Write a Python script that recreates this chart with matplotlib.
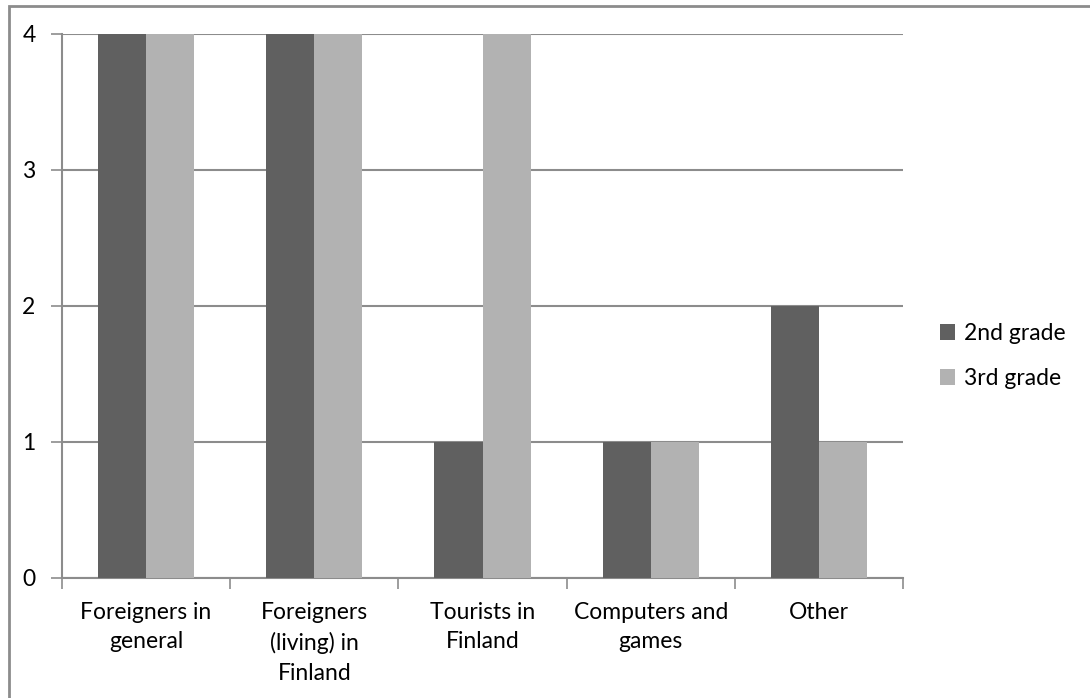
import matplotlib
matplotlib.use("Agg")
from matplotlib import pyplot as plt
from matplotlib.patches import Rectangle
import numpy as np

categories = ["Foreigners in\ngeneral", "Foreigners\n(living) in\nFinland",
              "Tourists in\nFinland", "Computers and\ngames", "Other"]
grade2 = [4, 4, 1, 1, 2]
grade3 = [4, 4, 4, 1, 1]
series_names = ["2nd grade", "3rd grade"]
yticks = [0, 1, 2, 3, 4]

plt.rcParams['font.family'] = ['Lato', 'DejaVu Sans']
fs = 16.5

fig = plt.figure(figsize=(10.9, 6.98), dpi=100)
W, H = 1090, 698

# outer chart frame (right/bottom run off the picture)
fig.patches.append(Rectangle((8.5 / W, -0.1), 1.2, 1 - 6.5 / H + 0.1,
                             transform=fig.transFigure, fill=False,
                             edgecolor='#8c8c8c', linewidth=2))

left, right, top, bottom = 62, 903, 34, 578
ax = fig.add_axes([left / W, 1 - bottom / H, (right - left) / W, (bottom - top) / H])

x = np.arange(len(categories))
w = 1 / 3.5
ax.bar(x - w / 2, grade2, w, color='#606060', label=series_names[0], zorder=3)
ax.bar(x + w / 2, grade3, w, color='#b2b2b2', label=series_names[1], zorder=3)

ax.set_xlim(-0.5, len(categories) - 0.5)
ax.set_ylim(0, 4)
ax.set_yticks(yticks)
ax.set_yticklabels([str(t) for t in yticks], fontsize=fs)
ax.yaxis.grid(True, color='#8c8c8c', linewidth=1.5, zorder=0)

ax.set_xticks(np.arange(-0.5, len(categories), 1))
ax.set_xticklabels([])
ax.set_xticks(x, minor=True)
ax.set_xticklabels(categories, minor=True, fontsize=fs, linespacing=1.52, va='top')
ax.tick_params(axis='x', which='minor', length=0, pad=17)
ax.tick_params(axis='x', which='major', length=8, color='#8c8c8c', width=1.2)
ax.tick_params(axis='y', length=8, color='#8c8c8c', width=1.2, pad=11)

for s in ['top', 'right']:
    ax.spines[s].set_visible(False)
for s in ['left', 'bottom']:
    ax.spines[s].set_color('#8c8c8c')
    ax.spines[s].set_linewidth(1.5)

ax.legend(loc='center left', bbox_to_anchor=(940 / W, 1 - 356 / H),
          bbox_transform=fig.transFigure, frameon=False, fontsize=fs,
          handlelength=0.65, handleheight=0.65, handletextpad=0.4,
          labelspacing=1.05, borderaxespad=0, borderpad=0)

fig.savefig("out.png", dpi=100)
